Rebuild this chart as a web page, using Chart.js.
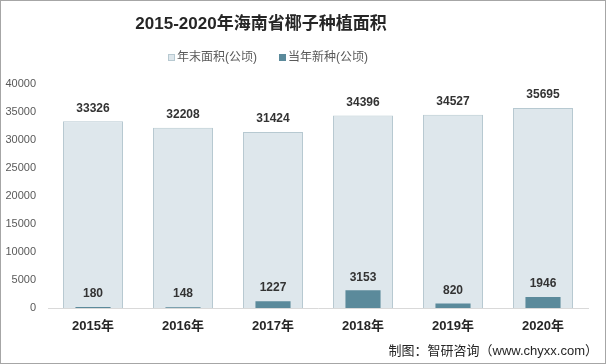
<!DOCTYPE html>
<html>
<head>
<meta charset="utf-8">
<script src="https://cdn.jsdelivr.net/npm/chart.js@4"></script>
<style>
  html, body { margin: 0; padding: 0; background: #fff; }
  #wrap { width: 606px; height: 364px; }
</style>
</head>
<body>
<div id="wrap"><canvas id="chart" width="606" height="364"></canvas></div>
<script>
// data
const years = ['2015年', '2016年', '2017年', '2018年', '2019年', '2020年'];
const totalArea = [33326, 32208, 31424, 34396, 34527, 35695];
const newPlanted = [180, 148, 1227, 3153, 820, 1946];
const yTicks = [0, 5000, 10000, 15000, 20000, 25000, 30000, 35000, 40000];

const FONT = "'Liberation Sans', 'Noto Sans CJK SC', sans-serif";

// title, legend, value labels and frame drawn by hand
const decor = {
  id: 'decor',
  afterDatasetsDraw(chart) {
    const ctx = chart.ctx;
    ctx.save();
    ctx.textAlign = 'center';
    ctx.textBaseline = 'middle';
    ctx.fillStyle = '#333';
    ctx.font = 'bold 12px ' + FONT;
    chart.data.datasets.forEach((ds, i) => {
      const meta = chart.getDatasetMeta(i);
      meta.data.forEach((bar, j) => {
        ctx.fillText(String(ds.data[j]), bar.x, bar.y - 13);
      });
    });
    ctx.restore();
  },
  afterDraw(chart) {
    const ctx = chart.ctx;
    ctx.save();
    // title
    ctx.fillStyle = '#262626';
    ctx.font = 'bold 17px ' + FONT;
    ctx.textAlign = 'center';
    ctx.textBaseline = 'middle';
    ctx.fillText('2015-2020年海南省椰子种植面积', 261, 24);

    // legend
    ctx.font = '12px ' + FONT;
    ctx.textAlign = 'left';
    let x = 168;
    chart.data.datasets.forEach((ds) => {
      ctx.fillStyle = ds.backgroundColor;
      ctx.fillRect(x, 54, 7, 7);
      if (ds.borderWidth) {
        ctx.strokeStyle = '#b7c9d1';
        ctx.lineWidth = 1;
        ctx.strokeRect(x + 0.5, 54.5, 6, 6);
      }
      ctx.fillStyle = '#595959';
      ctx.fillText(ds.label, x + 9, 58);
      x += 9 + ctx.measureText(ds.label).width + 22;
    });

    // source note
    ctx.font = '13px ' + FONT;
    ctx.fillStyle = '#262626';
    ctx.textAlign = 'right';
    ctx.fillText('制图：智研咨询（www.chyxx.com）', 598, 351);

    // frame
    ctx.strokeStyle = '#a6a6a6';
    ctx.lineWidth = 1;
    ctx.strokeRect(0.5, 0.5, 605, 363);
    ctx.restore();
  }
};

new Chart(document.getElementById('chart'), {
  type: 'bar',
  data: {
    labels: years,
    datasets: [
      {
        label: '年末面积(公顷)',
        data: totalArea,
        backgroundColor: '#dee7ec',
        borderColor: '#b7c9d1',
        borderWidth: 1,
        borderDash: [2, 2],
        categoryPercentage: 1,
        barPercentage: 0.667,
        grouped: false,
        order: 1
      },
      {
        label: '当年新种(公顷)',
        data: newPlanted,
        backgroundColor: '#5b8a9b',
        borderWidth: 0,
        categoryPercentage: 1,
        barPercentage: 0.39,
        grouped: false,
        order: 0
      }
    ]
  },
  options: {
    responsive: false,
    animation: false,
    layout: { padding: { top: 84, right: 18, left: 0, bottom: 0 } },
    plugins: {
      legend: { display: false },
      title: { display: false },
      tooltip: { enabled: false }
    },
    scales: {
      x: {
        grid: { display: false, drawTicks: false },
        border: { color: '#d9d9d9' },
        ticks: {
          padding: 11,
          color: '#262626',
          font: { family: FONT, size: 13, weight: 'bold' }
        },
        afterFit(scale) { scale.height = 56; }
      },
      y: {
        min: 0,
        max: 40000,
        grid: { display: false, drawTicks: false },
        border: { display: false },
        afterBuildTicks(scale) { scale.ticks = yTicks.map(v => ({ value: v })); },
        ticks: {
          padding: 12,
          color: '#595959',
          font: { family: FONT, size: 11 },
          callback: (v) => String(v)
        },
        afterFit(scale) { scale.width = 48; }
      }
    }
  },
  plugins: [decor]
});
</script>
</body>
</html>
